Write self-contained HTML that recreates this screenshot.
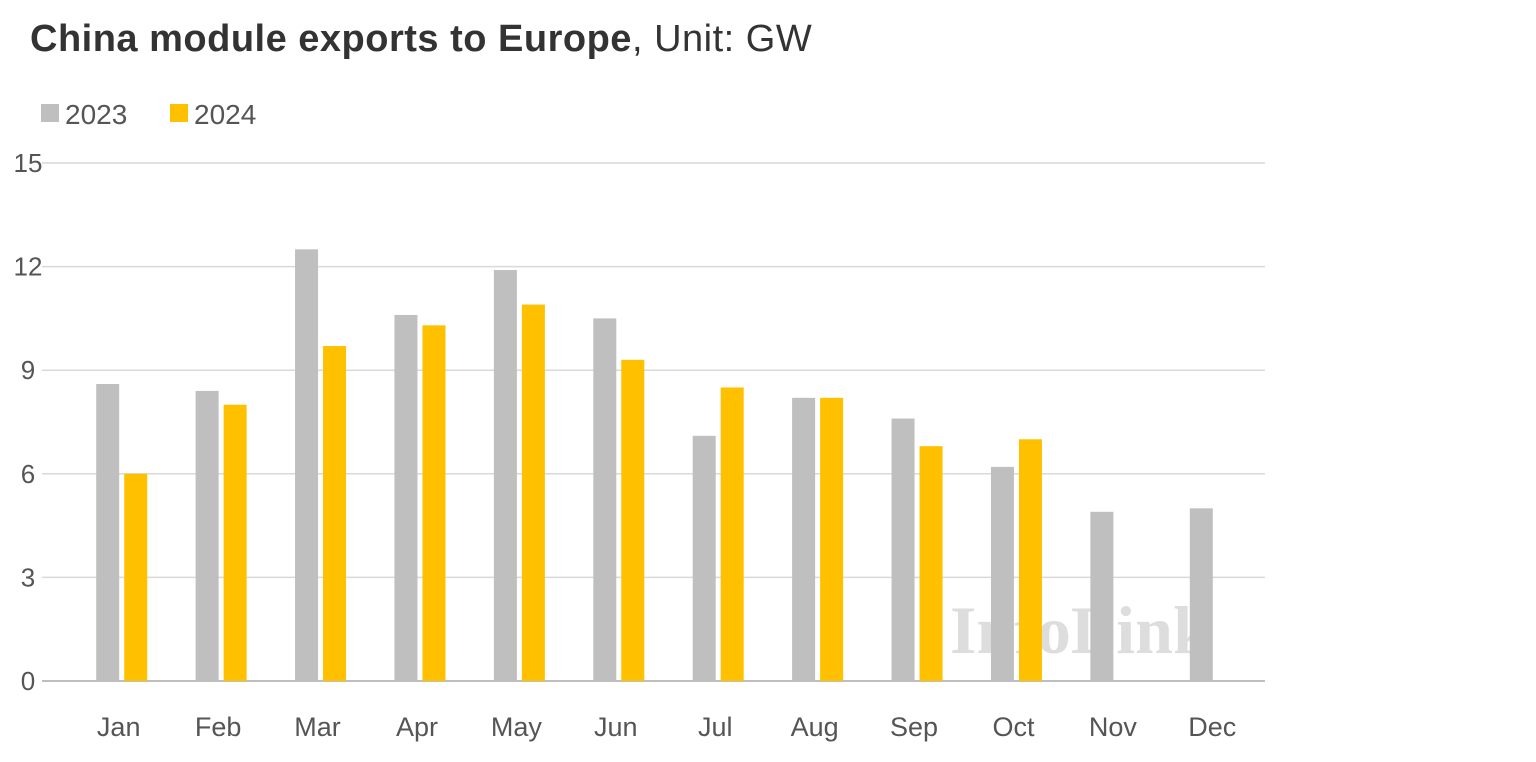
<!DOCTYPE html>
<html><head><meta charset="utf-8"><style>
body{margin:0;width:1536px;height:762px;background:#fff;overflow:hidden;font-family:"Liberation Sans",sans-serif}
svg{position:absolute;left:0;top:0}
</style></head><body>
<svg id="c" width="1536" height="762">
<text x="30" y="51" font-size="38" letter-spacing="0.5" fill="#333"><tspan font-weight="bold">China module exports to Europe</tspan>, Unit: GW</text>
<rect x="41" y="104" width="18" height="18" fill="#bfbfbf"/>
<text x="65" y="124" font-size="28" fill="#555">2023</text>
<rect x="170" y="104" width="18" height="18" fill="#ffc000"/>
<text x="194" y="124" font-size="28" fill="#555">2024</text>
<text x="950" y="653" font-size="68" font-weight="bold" font-family="Liberation Serif, serif" fill="#ddd">InfoLink</text>
<g id="g"></g>
</svg>
<script>
const categories=["Jan","Feb","Mar","Apr","May","Jun","Jul","Aug","Sep","Oct","Nov","Dec"];
const s2023=[8.6,8.4,12.5,10.6,11.9,10.5,7.1,8.2,7.6,6.2,4.9,5.0];
const s2024=[6.0,8.0,9.7,10.3,10.9,9.3,8.5,8.2,6.8,7.0,null,null];
const yTicks=[0,3,6,9,12,15];
const NS="http://www.w3.org/2000/svg",g=document.getElementById('g');
const y0=681,y1=163,yMax=15,xL=72,xR=1265,gridL=42;
const y=v=>y0-(v/yMax)*(y0-y1);
const bw=(xR-xL)/categories.length;
const xc=i=>xL+bw*(i+0.5);
function el(t,a){const e=document.createElementNS(NS,t);for(const k in a)e.setAttribute(k,a[k]);g.appendChild(e);return e;}
yTicks.forEach(t=>{
 const l=el('line',{x1:gridL,x2:xR,y1:y(t),y2:y(t),stroke:t===0?'#bfbfbf':'#d9d9d9','stroke-width':t===0?2:1.5});
 
 
 const tx=el('text',{x:28,y:y(t)+9,'font-size':26,fill:'#555','text-anchor':'middle'});
 tx.textContent=t;
 
 
});
categories.forEach((c,i)=>{
 const cx=xc(i);
 const a=s2023[i];
 if(a!=null){const r=el('rect',{x:cx-25.5,y:y(a),width:23,height:y0-y(a),fill:'#bfbfbf'});
 
 }
 const b=s2024[i];
 if(b!=null){const r=el('rect',{x:cx+2.5,y:y(b),width:23,height:y0-y(b),fill:'#ffc000'});
 
 }
 const t=el('text',{x:cx-3,y:736,'font-size':27,fill:'#555','text-anchor':'middle'});
 t.textContent=c;
 
 
});
</script>
</body></html>
